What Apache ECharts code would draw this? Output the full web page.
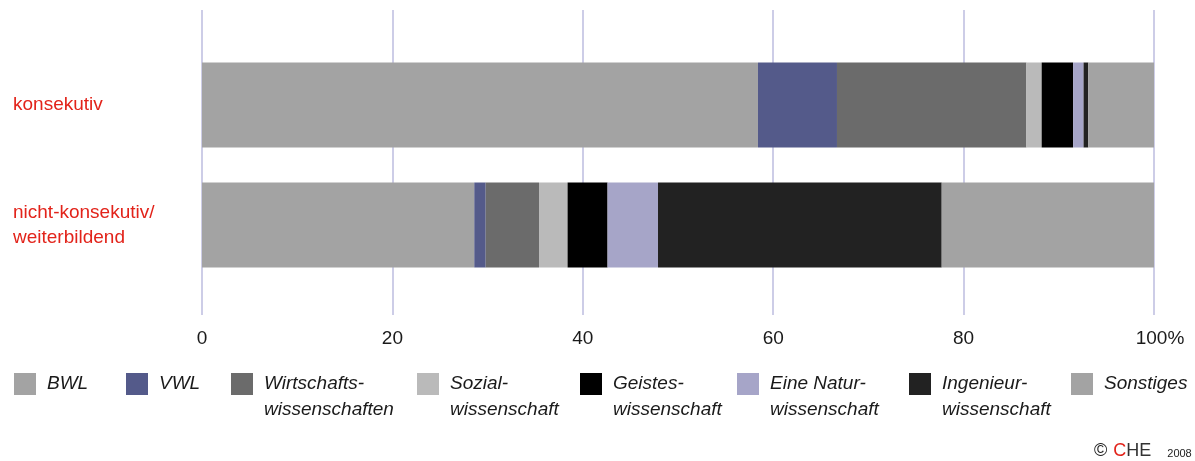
<!DOCTYPE html>
<html>
<head>
<meta charset="utf-8">
<script src="https://cdn.jsdelivr.net/npm/echarts@6/dist/echarts.min.js"></script>
<style>
    html, body { margin: 0; padding: 0; background: #fff; }
    #chart { width: 1195px; height: 461px; }
</style>
</head>
<body>
<div id="chart"></div>
<script>
// Studiengangstypen (y-Achse, von oben nach unten)
const categories = ['konsekutiv', 'nicht-konsekutiv/\nweiterbildend'];
// Fachrichtungen (Legende / Stapelreihenfolge)
const subjects = [
    'BWL', 'VWL', 'Wirtschafts-\nwissenschaften', 'Sozial-\nwissenschaft',
    'Geistes-\nwissenschaft', 'Eine Natur-\nwissenschaft', 'Ingenieur-\nwissenschaft', 'Sonstiges'
];
const colors = ['#a3a3a3', '#545a8a', '#6b6b6b', '#bababa', '#000000', '#a6a5c8', '#222222', '#a3a3a3'];
// Anteile in % je Fach: [konsekutiv, nicht-konsekutiv]
const bwl = [58.4, 28.6];
const vwl = [8.3, 1.2];
const wiwi = [19.9, 5.6];
const sozial = [1.6, 3.0];
const geistes = [3.3, 4.2];
const natur = [1.1, 5.3];
const ingenieur = [0.5, 29.8];
const sonstiges = [6.9, 22.3];
const seriesValues = [bwl, vwl, wiwi, sozial, geistes, natur, ingenieur, sonstiges];
// x-Achse
const xTicks = [0, 20, 40, 60, 80, 100];
// Position der Legendeneinträge (links)
const legendLeft = [14, 126, 231, 417, 580, 737, 909, 1071];

const font = "'Liberation Sans', Arial, sans-serif";

let myChart = echarts.init(document.getElementById('chart'));

// eine Legende pro Eintrag, damit die Abstände wie im Original sind
let legends = subjects.map((name, i) => ({
    data: [name],
    left: legendLeft[i],
    top: 345,
    padding: 0,
    orient: 'horizontal',
    selectedMode: false,
    icon: 'rect',
    itemWidth: 22,
    itemHeight: 22,
    formatter: function (n) {
        // erste Zeile auf Höhe des Symbols: leere Zeile davor
        return n.indexOf('\n') < 0 ? ' \n' + n + '\n ' : ' \n' + n
    },
    textStyle: {
        fontFamily: font,
        fontStyle: 'italic',
        fontSize: 19,
        lineHeight: 26,
        color: '#1a1a1a',
        padding: [0, 0, 0, 6]
    }
}));

let series = subjects.map((name, i) => ({
    name: name,
    type: 'bar',
    stack: 'total',
    xAxisIndex: 1,
    yAxisIndex: 1,
    barWidth: 85,
    itemStyle: { color: colors[i] },
    data: seriesValues[i]
}));

let options = {
    animation: false,
    backgroundColor: '#fff',
    legend: legends,
    grid: [
        { left: 202, right: 41, top: 10, height: 305 },
        { left: 202, right: 41, top: 45, height: 240 }
    ],
    xAxis: [
        {
            gridIndex: 0,
            type: 'value',
            min: 0,
            max: 100,
            interval: 20,
            axisLine: { show: false },
            axisTick: { show: false },
            splitLine: {
                show: true,
                lineStyle: { color: '#bcbcdf', width: 1.5 }
            },
            axisLabel: {
                margin: 14,
                fontFamily: font,
                fontSize: 19,
                color: '#1a1a1a',
                customValues: xTicks,
                formatter: function (v) {
                    return v === 100 ? '{p|100%}' : String(v)
                },
                rich: {
                    p: { fontFamily: font, fontSize: 19, color: '#1a1a1a', padding: [0, 0, 0, 12] }
                }
            }
        },
        {
            gridIndex: 1,
            type: 'value',
            min: 0,
            max: 100,
            show: false
        }
    ],
    yAxis: [
        {
            gridIndex: 0,
            type: 'value',
            show: false
        },
        {
            gridIndex: 1,
            type: 'category',
            inverse: true,
            data: categories,
            axisLine: { show: false },
            axisTick: { show: false },
            axisLabel: {
                align: 'left',
                margin: 189,
                fontFamily: font,
                fontSize: 19,
                lineHeight: 25,
                color: '#e2231a',
                padding: [0, 0, 4, 0]
            }
        }
    ],
    graphic: [{
        type: 'text',
        left: 1094,
        top: 442,
        style: {
            text: '{c|©}{r|C}{k|HE}{y|2008}',
            rich: {
                c: { fontFamily: font, fontSize: 18, fill: '#222', padding: [0, 6, 0, 0] },
                r: { fontFamily: font, fontSize: 18, fill: '#e2231a' },
                k: { fontFamily: font, fontSize: 18, fill: '#333', padding: [0, 16, 0, 0] },
                y: { fontFamily: font, fontSize: 11, fill: '#222', padding: [6, 0, 0, 0] }
            }
        }
    }],
    series: series
};

myChart.setOption(options);
window.addEventListener('resize', () => { myChart.resize(); });
</script>
</body>
</html>
